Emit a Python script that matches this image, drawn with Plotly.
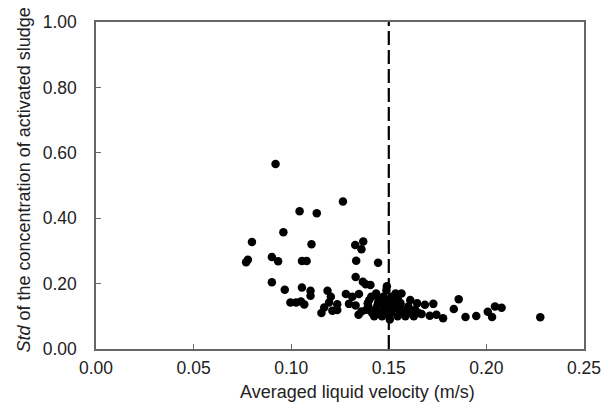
import plotly.graph_objects as go

# averaged liquid velocity (m/s) and std of sludge concentration
velocity = [
    0.0769, 0.0778, 0.0799, 0.0901, 0.0933, 0.0920, 0.0960, 0.0901, 0.0967,
    0.0996, 0.1025, 0.1050, 0.1067, 0.1043, 0.1131, 0.1055, 0.1079, 0.1104,
    0.1055, 0.1099, 0.1099, 0.1155, 0.1169, 0.1186, 0.1203, 0.1194, 0.1236,
    0.1236, 0.1211, 0.1280, 0.1265, 0.1328, 0.1369, 0.1360, 0.1333, 0.1445,
    0.1330, 0.1367, 0.1382, 0.1406, 0.1490, 0.1313, 0.1347, 0.1296, 0.1330,
    0.1360, 0.1345,
    # dense cluster around the dashed line
    0.1385, 0.1392, 0.1400, 0.1410, 0.1395, 0.1415,
    0.1425, 0.1432, 0.1440, 0.1448, 0.1435, 0.1445, 0.1452,
    0.1465, 0.1470, 0.1478, 0.1485, 0.1472, 0.1488, 0.1480, 0.1495,
    0.1505, 0.1510, 0.1518, 0.1522, 0.1530, 0.1512, 0.1535, 0.1525, 0.1502,
    0.1545, 0.1552, 0.1560, 0.1548, 0.1565, 0.1570, 0.1556,
    0.1585, 0.1592, 0.1600, 0.1610, 0.1598,
    0.1628, 0.1635, 0.1645, 0.1652,
    # tail to the right
    0.1668, 0.1710, 0.1744, 0.1778, 0.1685, 0.1728, 0.1858, 0.1833, 0.1893,
    0.1948, 0.2007, 0.2029, 0.2044, 0.2078, 0.2276,
]
std_conc = [
    0.265, 0.273, 0.327, 0.281, 0.268, 0.566, 0.357, 0.204, 0.181,
    0.142, 0.142, 0.145, 0.136, 0.421, 0.415, 0.269, 0.269, 0.320,
    0.188, 0.178, 0.163, 0.110, 0.127, 0.178, 0.160, 0.142, 0.137,
    0.119, 0.117, 0.168, 0.451, 0.318, 0.329, 0.305, 0.270, 0.264,
    0.220, 0.206, 0.198, 0.196, 0.192, 0.160, 0.168, 0.138, 0.133,
    0.115, 0.105,
    0.120, 0.140, 0.150, 0.160, 0.130, 0.110,
    0.100, 0.120, 0.130, 0.150, 0.170, 0.140, 0.110,
    0.100, 0.110, 0.130, 0.140, 0.160, 0.180, 0.120, 0.150,
    0.090, 0.110, 0.120, 0.130, 0.150, 0.160, 0.170, 0.140, 0.100,
    0.100, 0.120, 0.140, 0.150, 0.170, 0.110, 0.130,
    0.100, 0.120, 0.130, 0.150, 0.110,
    0.100, 0.120, 0.140, 0.110,
    0.107, 0.102, 0.105, 0.094, 0.135, 0.138, 0.152, 0.122, 0.098,
    0.101, 0.114, 0.098, 0.130, 0.126, 0.097,
]

threshold = 0.15
x_ticks = [0.00, 0.05, 0.10, 0.15, 0.20, 0.25]
y_ticks = [0.00, 0.20, 0.40, 0.60, 0.80, 1.00]
x_title = "Averaged liquid velocity (m/s)"
y_title = "<i>Std</i> of the concentration of activated sludge"

fig = go.Figure()

fig.add_trace(go.Scatter(
    x=velocity,
    y=std_conc,
    mode="markers",
    marker=dict(color="black", size=8.5),
    showlegend=False,
))

# dashed vertical line at 0.15 m/s
fig.add_shape(
    type="line",
    x0=threshold, x1=threshold, y0=0, y1=1,
    xref="x", yref="y",
    line=dict(color="black", width=2.2, dash="14px,5px"),
)

axis_style = dict(
    showline=True,
    linecolor="#666666",
    linewidth=1.5,
    mirror=True,
    ticks="inside",
    ticklen=5,
    tickcolor="#666666",
    showgrid=False,
    zeroline=False,
    tickformat=".2f",
    tickfont=dict(size=17.5, color="#222222"),
)

fig.update_xaxes(range=[0, 0.25], tickvals=x_ticks, ticklabelstandoff=2, **axis_style)
fig.update_yaxes(range=[0, 1], tickvals=y_ticks, ticklabelstandoff=14, **axis_style)

# axis titles as annotations so they sit where the original has them
fig.add_annotation(
    text=x_title, xref="paper", yref="paper", x=0.5, y=0,
    xshift=17, yshift=-43, xanchor="center", yanchor="middle",
    showarrow=False, font=dict(size=18, color="#222222"),
)
fig.add_annotation(
    text=y_title, xref="paper", yref="paper", x=0, y=0.5,
    xshift=-73, yshift=5, xanchor="center", yanchor="middle",
    textangle=-90, showarrow=False, font=dict(size=18, color="#222222"),
)

fig.update_layout(
    width=613,
    height=410,
    margin=dict(l=96, r=26, t=17, b=61),
    plot_bgcolor="white",
    paper_bgcolor="white",
    font=dict(family="Liberation Sans, Arial, sans-serif"),
)

fig.write_html(
    "out.html",
    config={"displayModeBar": False},
    post_script="document.body.style.margin='0';",
)
